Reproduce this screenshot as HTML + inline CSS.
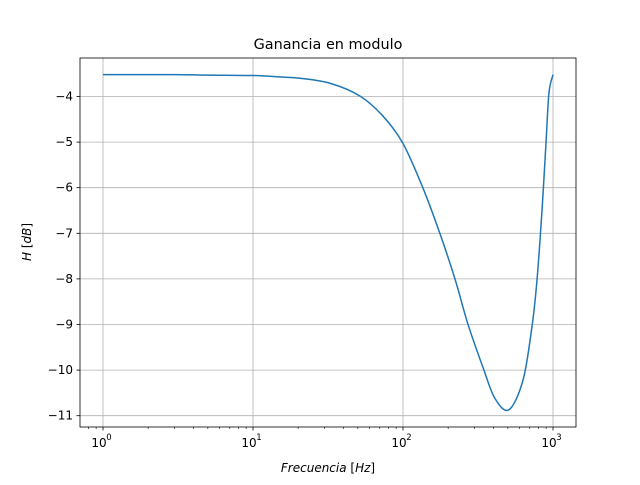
<!DOCTYPE html>
<html><head><meta charset="utf-8"><style>
body{margin:0;background:#fff}
svg text{font-family:"DejaVu Sans","Liberation Sans",sans-serif;fill:#000}
</style></head><body>
<svg id="chart" width="640" height="480" viewBox="0 0 640 480" xmlns="http://www.w3.org/2000/svg">
<rect width="640" height="480" fill="#fff"/>
<text x="328" y="49" font-size="14.4" text-anchor="middle">Ganancia en modulo</text>
<g id="grid"></g>
<g id="ticks"></g>
<path id="line" fill="none" stroke="#1f77b4" stroke-width="1.5" stroke-linejoin="round"/>
<rect x="80" y="58" width="496" height="369" fill="none" stroke="#000" stroke-width="0.8"/>
<text x="328" y="472" font-size="12" text-anchor="middle"><tspan font-style="italic">Frecuencia</tspan> [<tspan font-style="italic">Hz</tspan>]</text>
<text transform="translate(31,242) rotate(-90)" font-size="12" text-anchor="middle"><tspan font-style="italic">H</tspan> [<tspan font-style="italic">dB</tspan>]</text>
</svg>
<script>
const freqs=[1,3,5,10,15,20.6,32.6,51.6,74,100,136,176,222,272,343,410,509,631,724,782,845,898,940,1000];
const gains=[-3.52,-3.52,-3.53,-3.54,-3.57,-3.6,-3.71,-3.99,-4.44,-5.03,-6.01,-7.0,-8.0,-9.01,-9.96,-10.62,-10.87,-10.22,-9.05,-8.03,-6.49,-5.02,-3.92,-3.52];
const yTicks=[-4,-5,-6,-7,-8,-9,-10,-11];
const xDecades=[0,1,2,3];
const ns="http://www.w3.org/2000/svg";
const X=f=>103+150*Math.log10(f);
const Y=v=>96.5+(-4-v)*45.6;
const grid=document.getElementById('grid'),ticks=document.getElementById('ticks');
function mk(tag,attrs,parent){const e=document.createElementNS(ns,tag);for(const k in attrs)e.setAttribute(k,attrs[k]);parent.appendChild(e);return e;}
yTicks.forEach(v=>{const y=Y(v);
 const g=mk('line',{x1:80,x2:576,y1:y,y2:y,stroke:'#b0b0b0','stroke-width':0.8},grid);
 
 
 mk('line',{x1:76.5,x2:80,y1:y,y2:y,stroke:'#000','stroke-width':0.8},ticks);
 const t=mk('text',{x:73,y:y+4,'font-size':12,'text-anchor':'end'},ticks);
 t.textContent='\u2212'+Math.abs(v);
 
 
});
xDecades.forEach(d=>{const x=X(Math.pow(10,d));
 const g=mk('line',{x1:x,x2:x,y1:58,y2:427,stroke:'#b0b0b0','stroke-width':0.8},grid);
 
 
 mk('line',{x1:x,x2:x,y1:427,y2:430.5,stroke:'#000','stroke-width':0.8},ticks);
 const t=mk('text',{x:x-4,y:447,'font-size':12,'text-anchor':'middle'},ticks);
 t.textContent='10';
 
 
 const s=mk('text',{x:x+6,y:440,'font-size':8.5,'text-anchor':'middle'},ticks);
 s.textContent=String(d);
});
[-1,0,1,2,3].forEach(d=>{for(let m=2;m<10;m++){const x=X(m*Math.pow(10,d));if(x<80||x>576)continue;
 mk('line',{x1:x,x2:x,y1:427,y2:429,stroke:'#000','stroke-width':0.6},ticks);}});
const P=freqs.map((f,i)=>[X(f),Y(gains[i])]);
let d='M'+P[0][0].toFixed(2)+','+P[0][1].toFixed(2);
for(let i=0;i<P.length-1;i++){
 const p0=P[Math.max(0,i-1)],p1=P[i],p2=P[i+1],p3=P[Math.min(P.length-1,i+2)];
 const c1=[p1[0]+(p2[0]-p0[0])/6,p1[1]+(p2[1]-p0[1])/6];
 const c2=[p2[0]-(p3[0]-p1[0])/6,p2[1]-(p3[1]-p1[1])/6];
 d+='C'+c1.map(v=>v.toFixed(2)).join(',')+' '+c2.map(v=>v.toFixed(2)).join(',')+' '+p2.map(v=>v.toFixed(2)).join(',');
}
document.getElementById('line').setAttribute('d',d);
</script>
</body></html>
